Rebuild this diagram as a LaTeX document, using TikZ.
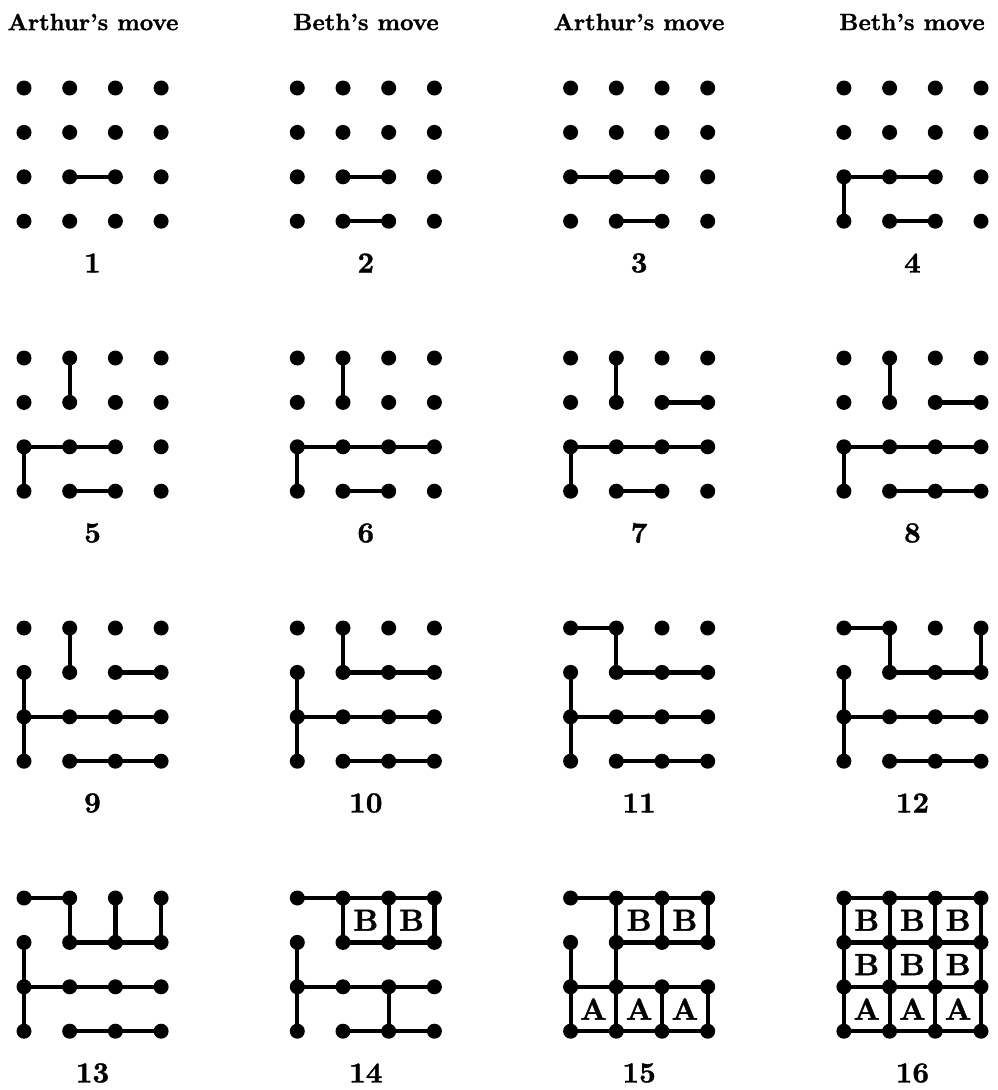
\documentclass[tikz,border=0pt]{standalone}
\usepackage{fontspec}
\newfontfamily\heavyfont{lmroman10-bold.otf}[FakeBold=1.2]
\begin{document}
\begin{tikzpicture}[x=1pt,y=-1pt,
  dot/.style={circle,fill=black,inner sep=0pt,minimum size=15pt},
  edge/.style={line width=4.2pt},
  hdr/.style={font=\fontsize{23.5}{26}\selectfont\heavyfont,inner sep=0pt},
  num/.style={font=\fontsize{29}{30}\selectfont\heavyfont,inner sep=0pt},
  cell/.style={font=\fontsize{30.5}{32}\selectfont\heavyfont,inner sep=0pt}]
\useasboundingbox[fill=white] (0,0) rectangle (997,1090);
% headers
\node[hdr] (h1) at (93,22) {Arthur’s move};
\node[hdr] (h2) at (366,22) {Beth’s move};
\node[hdr] (h3) at (639,22) {Arthur’s move};
\node[hdr] (h4) at (912,22) {Beth’s move};
\foreach \p in {1,...,16}{
  \pgfmathtruncatemacro\col{mod(\p-1,4)}
  \pgfmathtruncatemacro\row{floor((\p-1)/4)}
  \pgfmathsetmacro\xo{24+273.3*\col}
  \pgfmathsetmacro\yo{88+270*\row}
  \foreach \c in {0,...,3}{\foreach \r in {0,...,3}{
     \node[dot] (p\p-\c-\r) at ({\xo+45.7*\c},{\yo+44.4*\r}) {};
  }}
  \foreach \k/\t/\c/\r in {1/h/1/2, 2/h/1/3, 3/h/0/2, 4/v/0/2, 5/v/1/0,
      6/h/2/2, 7/h/2/1, 8/h/2/3, 9/v/0/1, 10/h/1/1, 11/h/0/0, 12/v/3/0,
      13/v/2/0, 14/h/1/0, 14/h/2/0, 14/v/2/2, 15/h/0/3, 15/v/1/2,
      15/v/3/2, 15/v/1/1, 16/v/0/0, 16/h/0/1, 16/v/2/1, 16/v/3/1}{
    \ifnum\k>\p\relax\else
      \if\t h
        \pgfmathtruncatemacro\cc{\c+1}
        \draw[edge] (p\p-\c-\r.center) -- (p\p-\cc-\r.center);
      \else
        \pgfmathtruncatemacro\rr{\r+1}
        \draw[edge] (p\p-\c-\r.center) -- (p\p-\c-\rr.center);
      \fi
    \fi
  }
  \foreach \k/\c/\r/\L in {14/1/0/B, 14/2/0/B, 15/0/2/A, 15/1/2/A, 15/2/2/A,
      16/0/0/B, 16/0/1/B, 16/1/1/B, 16/2/1/B}{
    \ifnum\k>\p\relax\else
      \node[cell] (l\p-\c-\r) at ({\xo+45.7*(\c+0.5)},{\yo+44.4*(\r+0.5)}) {\L};
    \fi
  }
  \node[num] (n\p) at ({\xo+68.5},{\yo+175}) {\p};
}
\end{tikzpicture}
\end{document}
